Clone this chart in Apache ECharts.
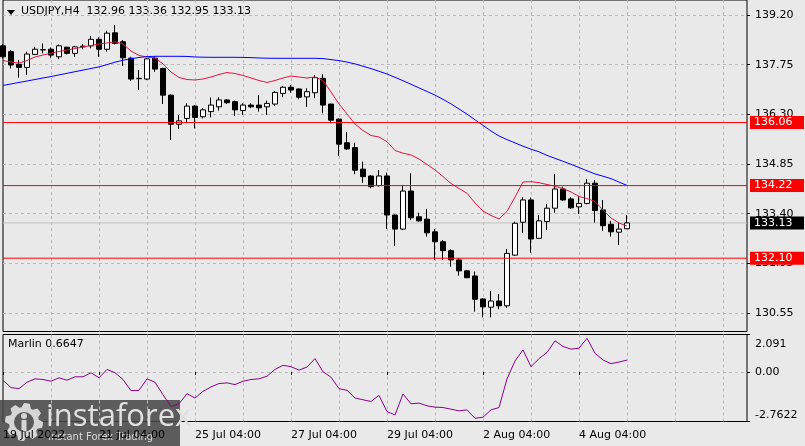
<!DOCTYPE html>
<html><head><meta charset="utf-8">
<script src="https://cdn.jsdelivr.net/npm/echarts@6/dist/echarts.min.js"></script>
<style>html,body{margin:0;padding:0;background:#e9e9e9;}#c{width:805px;height:446px;}</style>
</head><body><div id="c"></div>
<script>
const symbolName = 'USDJPY,H4';
const tradingDays = ['19 Jul','20 Jul','21 Jul','22 Jul','25 Jul','26 Jul','27 Jul','28 Jul','29 Jul','1 Aug','2 Aug','3 Aug','4 Aug','5 Aug','8 Aug','9 Aug'];
const barHours = ['00:00','04:00','08:00','12:00','16:00','20:00'];
const timeTickIdx = [0, 12, 24, 36, 48, 60, 72];
const timeTickLabels = ['19 Jul 2022','21 Jul 04:00','25 Jul 04:00','27 Jul 04:00','29 Jul 04:00','2 Aug 04:00','4 Aug 04:00'];
const priceTicks = [130.50, 131.95, 133.40, 134.85, 136.30, 137.75, 139.20];
const priceTickLabels = ['130.55','131.95','133.40','134.85','136.30','137.75','139.20'];
const marlinTicks = [-2.7622, 0, 2.091];
const marlinTickLabels = ['-2.7622','0.00','2.091'];
const levels = [136.06, 134.22, 132.10];

const open = [138.30,138.13,137.76,137.67,138.05,138.18,138.20,137.98,138.26,138.08,
138.27,138.30,138.49,138.20,138.68,138.42,137.94,137.34,137.33,137.94,
137.64,136.86,136.01,136.18,136.54,136.23,136.38,136.52,136.72,136.67,
136.41,136.57,136.57,136.52,136.60,136.91,137.09,137.04,136.81,136.93,
137.35,136.60,136.16,135.47,135.33,134.70,134.50,134.22,134.50,133.36,
132.95,134.06,133.31,133.24,132.87,132.58,132.32,132.05,131.73,131.58,
130.91,130.67,130.85,130.71,132.19,133.15,133.80,132.68,133.17,133.56,
134.12,133.83,133.60,133.70,134.29,133.51,133.09,132.86,132.96];
const high = [138.35,138.18,137.89,138.13,138.27,138.37,138.25,138.34,138.27,138.30,
138.35,138.59,138.55,138.74,138.91,138.47,137.98,137.59,137.94,137.98,
137.66,136.88,136.28,136.62,136.57,136.48,136.79,136.80,136.74,136.70,
136.62,136.62,136.86,136.70,136.98,137.13,137.16,137.06,137.06,137.45,
137.47,136.61,136.18,135.79,135.47,134.92,134.53,134.67,134.60,133.37,
134.24,134.58,133.43,133.54,132.95,132.63,132.36,132.10,131.76,131.71,
130.93,131.14,131.05,132.37,133.17,133.88,133.87,133.36,133.68,134.56,
134.19,133.88,133.92,134.41,134.38,133.80,133.19,133.15,133.36];
const low = [137.93,137.64,137.37,137.45,138.03,138.08,137.94,137.91,138.05,137.98,
138.20,138.23,137.98,138.13,138.34,137.71,137.27,137.01,137.30,137.54,
136.60,135.55,135.87,136.04,135.89,136.18,136.21,136.41,136.60,136.25,
136.28,136.48,136.38,136.28,136.54,136.80,136.93,136.74,136.52,136.77,
136.33,136.04,135.09,135.26,134.55,134.30,134.14,134.19,132.95,132.46,
132.92,133.21,133.17,132.73,132.05,132.05,131.85,131.59,131.52,130.54,
130.37,130.37,130.61,130.65,132.17,132.84,132.26,132.66,132.92,133.43,
133.78,133.54,133.39,133.67,133.14,132.90,132.73,132.49,132.95];
const close = [137.98,137.74,137.67,138.06,138.20,138.19,138.03,138.30,138.08,138.27,
138.29,138.49,138.20,138.67,138.37,137.95,137.33,137.35,137.92,137.62,
136.86,136.01,136.11,136.54,136.21,136.43,136.57,136.72,136.64,136.43,
136.57,136.52,136.49,136.62,136.94,137.09,137.01,136.80,136.96,137.37,
136.57,136.13,135.43,135.29,134.67,134.48,134.19,134.50,133.36,132.95,
134.06,133.28,133.19,132.84,132.58,132.32,132.05,131.73,131.53,130.90,
130.68,130.85,130.71,132.24,133.12,133.80,132.66,133.19,133.56,134.12,
133.80,133.57,133.70,134.29,133.49,133.05,132.87,132.95,133.13];
const maFast = [137.872,137.828,137.793,137.872,137.974,138.032,138.085,138.135,138.178,138.222,
138.266,138.310,138.354,138.383,138.418,138.354,138.149,138.018,137.974,137.945,
137.770,137.536,137.376,137.317,137.303,137.332,137.390,137.463,137.521,137.492,
137.434,137.361,137.288,137.230,137.288,137.361,137.419,137.390,137.361,137.390,
137.288,136.952,136.602,136.310,136.018,135.828,135.682,135.638,135.501,135.244,
135.166,135.113,134.996,134.836,134.675,134.485,134.281,134.135,133.995,133.712,
133.478,133.347,133.245,133.464,133.887,134.325,134.334,134.304,134.252,134.202,
134.135,134.033,133.901,133.843,133.755,133.507,133.274,133.128,133.040];
const maSlow = [137.145,137.186,137.230,137.273,137.317,137.361,137.402,137.451,137.498,137.545,
137.592,137.638,137.685,137.752,137.822,137.881,137.921,137.959,137.986,137.994,
137.994,137.994,137.994,137.991,137.974,137.968,137.965,137.965,137.965,137.965,
137.962,137.956,137.945,137.939,137.936,137.936,137.936,137.936,137.936,137.936,
137.927,137.898,137.869,137.825,137.773,137.705,137.635,137.557,137.478,137.381,
137.282,137.177,137.072,136.967,136.862,136.736,136.605,136.456,136.307,136.141,
135.977,135.814,135.668,135.563,135.466,135.370,135.282,135.206,135.101,135.014,
134.929,134.841,134.748,134.652,134.561,134.494,134.424,134.322,134.225];
const marlin = [-0.460,-0.872,-0.928,-0.573,-0.381,-0.420,-0.516,-0.324,-0.460,-0.268,
-0.268,-0.042,-0.324,0.144,-0.042,-0.420,-1.041,-1.024,-0.381,-0.573,
-1.267,-1.927,-1.775,-1.210,-1.453,-1.081,-0.832,-0.646,-0.607,-0.703,
-0.516,-0.420,-0.381,-0.234,0.144,0.370,0.296,0.104,0.274,0.748,
0.014,-0.291,-0.928,-1.024,-1.453,-1.549,-1.645,-1.306,-2.209,-2.396,
-1.227,-1.775,-1.735,-1.888,-1.961,-1.984,-2.074,-2.170,-2.113,-2.582,
-2.525,-2.113,-1.984,-0.381,0.612,1.233,0.296,0.748,1.086,1.741,
1.425,1.273,1.329,1.876,1.047,0.669,0.466,0.556,0.6647];

const categories = [];
tradingDays.forEach(d => barHours.forEach(h => categories.push(d + ' ' + h)));
const cats = categories.slice(1, 95);
const candles = open.map((o, i) => [o, close[i], low[i], high[i]]);
const last = open.length - 1;
const bid = close[last];

const FONT = 'DejaVu Sans';
const gridColor = '#b8b8b8';
const splitX = { show: true, interval: (i) => i > 0 && i % 6 === 0, lineStyle: { color: gridColor, type: [3, 3], width: 1 } };
const findLbl = (ticks, labels, v) => { const k = ticks.findIndex(t => Math.abs(t - v) < 1e-6); return k < 0 ? '' : labels[k]; };

const chart = echarts.init(document.getElementById('c'), null, { renderer: 'canvas' });

const gear = [];
for (let k = 0; k < 40; k++) {
  const a = k / 40 * Math.PI * 2;
  const r = (Math.floor(k / 2.5) % 2 === 0) ? 19 : 15;
  gear.push([24 + r * Math.cos(a), 422 + r * Math.sin(a)]);
}

const priceLabel = (bg) => ({ show: true, distance: 3, color: '#fff', fontSize: 11, fontFamily: FONT, padding: [1, 4, 1, 4], width: 46, lineHeight: 11, backgroundColor: bg, align: 'left' });
const levelSeries = (v, color, bg, z) => ({
  type: 'line', xAxisIndex: 0, yAxisIndex: 0, data: cats.map(() => v), symbol: 'none', silent: true, z: z,
  lineStyle: { color: color, width: 1, type: 'solid' },
  endLabel: Object.assign(priceLabel(bg), { formatter: () => v.toFixed(2) })
});

chart.setOption({
  animation: false,
  backgroundColor: '#e9e9e9',
  textStyle: { fontFamily: FONT },
  grid: [
    { left: 3, right: 58, top: 0, height: 331.5, show: true, borderColor: '#000', borderWidth: 1, backgroundColor: 'transparent', outerBoundsMode: 'none', containLabel: false },
    { left: 3, right: 58, top: 334.5, height: 87, show: true, borderColor: '#000', borderWidth: 1, backgroundColor: 'transparent', outerBoundsMode: 'none', containLabel: false }
  ],
  xAxis: [
    { type: 'category', gridIndex: 0, data: cats, boundaryGap: false,
      axisLine: { show: false }, axisTick: { show: false }, axisLabel: { show: false }, splitLine: splitX },
    { type: 'category', gridIndex: 1, data: cats, boundaryGap: false,
      axisLine: { show: false },
      axisTick: { show: true, interval: (i) => timeTickIdx.includes(i), length: 3, lineStyle: { color: '#000' } },
      axisLabel: { show: true, interval: (i) => timeTickIdx.includes(i), formatter: (v, i) => timeTickLabels[timeTickIdx.indexOf(i)],
        align: 'left', color: '#000', fontSize: 11, fontFamily: FONT, margin: 8, hideOverlap: false },
      splitLine: splitX }
  ],
  yAxis: [
    { type: 'value', gridIndex: 0, position: 'right', min: 129.960, max: 139.638, scale: true,
      axisLine: { show: false },
      axisTick: { show: true, customValues: priceTicks, length: 3, lineStyle: { color: '#000' } },
      axisLabel: { show: true, customValues: priceTicks, formatter: (v) => findLbl(priceTicks, priceTickLabels, v), color: '#000', fontSize: 11, fontFamily: FONT, margin: 8 },
      splitLine: { show: true, lineStyle: { color: gridColor, type: [3, 3], width: 1 } } },
    { type: 'value', gridIndex: 1, position: 'right', min: -2.7622, max: 2.091,
      axisLine: { show: false },
      axisTick: { show: true, customValues: marlinTicks, length: 3, lineStyle: { color: '#000' } },
      axisLabel: { show: true, customValues: marlinTicks, color: '#000', fontSize: 11, fontFamily: FONT, margin: 8,
        formatter: (v) => { const s = findLbl(marlinTicks, marlinTickLabels, v); if (v > 1) return '{t|' + s + '}'; if (v < -1) return '{b|' + s + '}'; return s; },
        rich: { t: { padding: [20, 0, 0, 0], fontSize: 11, color: '#000', fontFamily: FONT }, b: { padding: [0, 0, 12, 0], fontSize: 11, color: '#000', fontFamily: FONT } } },
      splitLine: { show: true, showMinLine: false, showMaxLine: false, lineStyle: { color: gridColor, type: [3, 3], width: 1 } } }
  ],
  series: [
    levelSeries(bid, '#c2c2c2', '#000000', 1),
    { type: 'candlestick', xAxisIndex: 0, yAxisIndex: 0, data: candles, barWidth: 5, clip: true, z: 2,
      itemStyle: { color: '#ffffff', color0: '#000000', borderColor: '#000000', borderColor0: '#000000', borderColorDoji: '#000000', borderWidth: 1 } },
    { type: 'line', xAxisIndex: 0, yAxisIndex: 0, data: maFast, symbol: 'none', lineStyle: { color: '#e3163c', width: 1 }, z: 3 },
    { type: 'line', xAxisIndex: 0, yAxisIndex: 0, data: maSlow, symbol: 'none', lineStyle: { color: '#0000ff', width: 1 }, z: 3 },
    levelSeries(levels[0], '#ff0000', '#ff0000', 4),
    levelSeries(levels[1], '#ff0000', '#ff0000', 4),
    levelSeries(levels[2], '#ff0000', '#ff0000', 4),
    { type: 'line', xAxisIndex: 1, yAxisIndex: 1, data: marlin, symbol: 'none', lineStyle: { color: '#8b008b', width: 1 } }
  ],
  graphic: [
    { type: 'polygon', shape: { points: [[7, 10], [15, 10], [11, 15]] }, style: { fill: '#000' } },
    { type: 'text', left: 21, top: 6, style: { text: symbolName + '  ' + [open[last], high[last], low[last], close[last]].map(v => v.toFixed(2)).join(' '), fontSize: 11, fontFamily: FONT, fill: '#000' } },
    { type: 'text', left: 8, top: 339, style: { text: 'Marlin ' + marlin[last].toFixed(4), fontSize: 11, fontFamily: FONT, fill: '#000' } },
    { type: 'group', z: 100, children: [
      { type: 'rect', shape: { x: 0, y: 400, width: 180, height: 46 }, style: { fill: 'rgba(72,72,72,0.88)' } },
      { type: 'polygon', shape: { points: gear }, style: { fill: '#d6d6d6' } },
      { type: 'circle', shape: { cx: 24, cy: 422, r: 10 }, style: { fill: '#5a5a5a' } },
      { type: 'circle', shape: { cx: 24, cy: 416, r: 3 }, style: { fill: '#d6d6d6' } },
      { type: 'rect', shape: { x: 21.5, y: 420, width: 5, height: 11 }, style: { fill: '#d6d6d6' } },
      { type: 'text', left: 46, top: 402, style: { text: 'instaforex', fontSize: 31, fontFamily: 'Open Sans', fill: '#e0e0e0' } },
      { type: 'text', left: 48, top: 432, style: { text: 'Instant Forex Trading', fontSize: 10, fontFamily: 'DejaVu Sans', fill: '#d8d8d8' } }
    ] }
  ]
});
</script></body></html>
